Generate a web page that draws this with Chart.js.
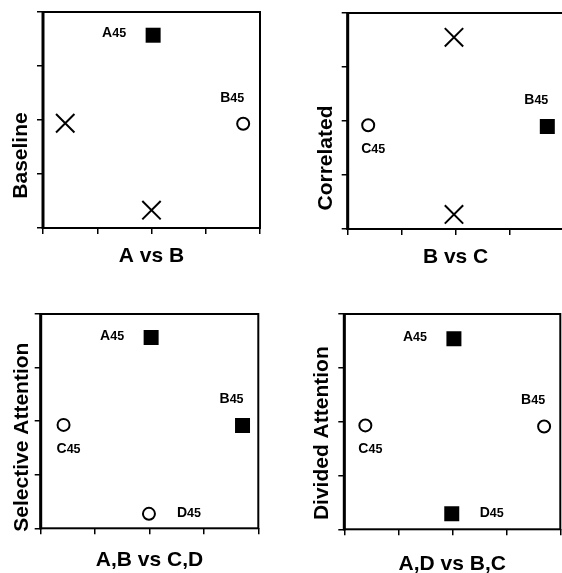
<!DOCTYPE html>
<html>
<head>
<meta charset="utf-8">
<script src="https://cdn.jsdelivr.net/npm/chart.js@4"></script>
<style>
  html, body { margin: 0; padding: 0; background: #fff; }
  #page { position: relative; width: 562px; height: 573px; overflow: hidden; background: #fff; }
  #page canvas { position: absolute; }
</style>
</head>
<body>
<div id="page">
  <canvas id="baseline"></canvas>
  <canvas id="correlated"></canvas>
  <canvas id="selective"></canvas>
  <canvas id="divided"></canvas>
</div>
<script>
// ---- data ----
const conditions = ['Baseline', 'Correlated', 'Selective Attention', 'Divided Attention'];
const comparisons = ['A vs B', 'B vs C', 'A,B vs C,D', 'A,D vs B,C'];
const axisTicks = [0, 1, 2, 3, 4];

const baselineFilled = [{ x: 2.03, y: 3.57 }];
const baselineFilledLabels = ['A45'];
const baselineOpen = [{ x: 3.69, y: 1.93 }];
const baselineOpenLabels = ['B45'];
const baselineCross = [{ x: 0.41, y: 1.94 }, { x: 2.0, y: 0.33 }];

const correlatedFilled = [{ x: 3.70, y: 1.90 }];
const correlatedFilledLabels = ['B45'];
const correlatedOpen = [{ x: 0.38, y: 1.92 }];
const correlatedOpenLabels = ['C45'];
const correlatedCross = [{ x: 1.97, y: 3.55 }, { x: 1.97, y: 0.27 }];

const selectiveFilled = [{ x: 2.03, y: 3.56 }, { x: 3.71, y: 1.92 }];
const selectiveFilledLabels = ['A45', 'B45'];
const selectiveOpen = [{ x: 0.42, y: 1.93 }, { x: 1.99, y: 0.27 }];
const selectiveOpenLabels = ['C45', 'D45'];
const selectiveCross = [];

const dividedFilled = [{ x: 2.03, y: 3.54 }, { x: 1.99, y: 0.29 }];
const dividedFilledLabels = ['A45', 'D45'];
const dividedOpen = [{ x: 0.39, y: 1.93 }, { x: 3.70, y: 1.91 }];
const dividedOpenLabels = ['C45', 'B45'];
const dividedCross = [];

// ---- look ----
const FONT = '"Liberation Sans", Arial, Helvetica, sans-serif';
const TITLE_SIZE = 21;
const TICK_LEN = 6;
// where each letter's label sits relative to its marker
const LABEL_OFFSET = { A: [-39, -3], B: [-11, -27], C: [5, 23], D: [40, -2] };

function drawLabel(ctx, txt, cx, cy) {
  const big = 'bold 14px ' + FONT;
  const small = 'bold 12.5px ' + FONT;
  ctx.font = big;
  const w1 = ctx.measureText(txt[0]).width;
  ctx.font = small;
  const w2 = ctx.measureText(txt.slice(1)).width;
  const x = cx - (w1 + w2) / 2;
  const base = cy + 5;
  ctx.fillStyle = '#000';
  ctx.textAlign = 'left';
  ctx.textBaseline = 'alphabetic';
  ctx.font = big;
  ctx.fillText(txt[0], x, base);
  ctx.font = small;
  ctx.fillText(txt.slice(1), x + w1, base);
}

const panelDecor = {
  id: 'panelDecor',
  afterDatasetsDraw(chart, args, opts) {
    const ctx = chart.ctx;
    const a = chart.chartArea;
    ctx.save();
    ctx.strokeStyle = '#000';
    ctx.lineWidth = 2;
    ctx.strokeRect(a.left, a.top, a.right - a.left, a.bottom - a.top);
    // the left axis is drawn heavier
    ctx.lineWidth = 3;
    ctx.beginPath();
    ctx.moveTo(a.left, a.top - 1);
    ctx.lineTo(a.left, a.bottom + 1);
    ctx.stroke();

    chart.data.datasets.forEach((ds, i) => {
      const meta = chart.getDatasetMeta(i);
      (ds.pointLabels || []).forEach((txt, j) => {
        const el = meta.data[j];
        if (!el) return;
        const off = LABEL_OFFSET[txt[0]];
        drawLabel(ctx, txt, el.x + off[0], el.y + off[1]);
      });
    });

    // rotated side title
    ctx.translate(a.left + opts.dx, (a.top + a.bottom) / 2 + opts.dy);
    ctx.rotate(-Math.PI / 2);
    ctx.font = 'bold ' + TITLE_SIZE + 'px ' + FONT;
    ctx.textAlign = 'center';
    ctx.textBaseline = 'middle';
    ctx.fillStyle = '#000';
    ctx.fillText(opts.text, 0, 0);
    ctx.restore();
  }
};

function axis(extra) {
  return Object.assign({
    type: 'linear',
    min: 0,
    max: 4,
    afterBuildTicks: s => { s.ticks = axisTicks.map(v => ({ value: v })); },
    grid: { drawOnChartArea: false, drawTicks: true, tickLength: TICK_LEN, lineWidth: 1.5, color: '#000' },
    border: { display: false },
    ticks: { display: false }
  }, extra);
}

function makePanel(id, box, titlePad, side, idx, filled, filledLabels, open, openLabels, cross) {
  const [L, T, R, B] = box;
  const cl = Math.floor(L) - 45;
  const ct = Math.floor(T) - 10;
  const xAxisH = TICK_LEN + TITLE_SIZE * 1.2 + titlePad + 2;
  const w = Math.ceil(R - cl + 20);
  const h = Math.ceil(B - ct + xAxisH + 2);
  const canvas = document.getElementById(id);
  canvas.width = w;
  canvas.height = h;
  canvas.style.left = cl + 'px';
  canvas.style.top = ct + 'px';

  new Chart(canvas, {
    type: 'scatter',
    data: {
      datasets: [
        { data: cross, pointStyle: 'crossRot', pointRadius: 13, borderColor: '#000', borderWidth: 2, backgroundColor: '#000' },
        { data: open, pointLabels: openLabels, pointStyle: 'circle', pointRadius: 6, borderColor: '#000', borderWidth: 2, backgroundColor: '#fff' },
        { data: filled, pointLabels: filledLabels, pointStyle: 'rect', pointRadius: 10.6, borderColor: '#000', borderWidth: 0, backgroundColor: '#000' }
      ]
    },
    options: {
      responsive: false,
      animation: false,
      events: [],
      layout: {
        autoPadding: false,
        padding: { left: L - cl - TICK_LEN, top: T - ct, right: cl + w - R, bottom: ct + h - B - xAxisH }
      },
      plugins: {
        legend: { display: false },
        tooltip: { enabled: false },
        panelDecor: { text: conditions[idx], dx: side[0], dy: side[1] }
      },
      scales: {
        x: axis({
          title: {
            display: true, text: comparisons[idx], color: '#000',
            font: { family: FONT, size: TITLE_SIZE, weight: 'bold' },
            padding: { top: titlePad - 1, bottom: 2 }
          }
        }),
        y: axis({})
      }
    },
    plugins: [panelDecor]
  });
}

makePanel('baseline', [43, 12, 260, 227], 10.4, [-22, 35.5], 0,
  baselineFilled, baselineFilledLabels, baselineOpen, baselineOpenLabels, baselineCross);
makePanel('correlated', [347.7, 13, 563.5, 228], 10.2, [-21.7, 37], 1,
  correlatedFilled, correlatedFilledLabels, correlatedOpen, correlatedOpenLabels, correlatedCross);
makePanel('selective', [40.7, 314, 258.3, 527.3], 13.9, [-18.5, 16], 2,
  selectiveFilled, selectiveFilledLabels, selectiveOpen, selectiveOpenLabels, selectiveCross);
makePanel('divided', [344.3, 314, 560.3, 528.3], 17.4, [-21.8, 11.5], 3,
  dividedFilled, dividedFilledLabels, dividedOpen, dividedOpenLabels, dividedCross);
</script>
</body>
</html>
